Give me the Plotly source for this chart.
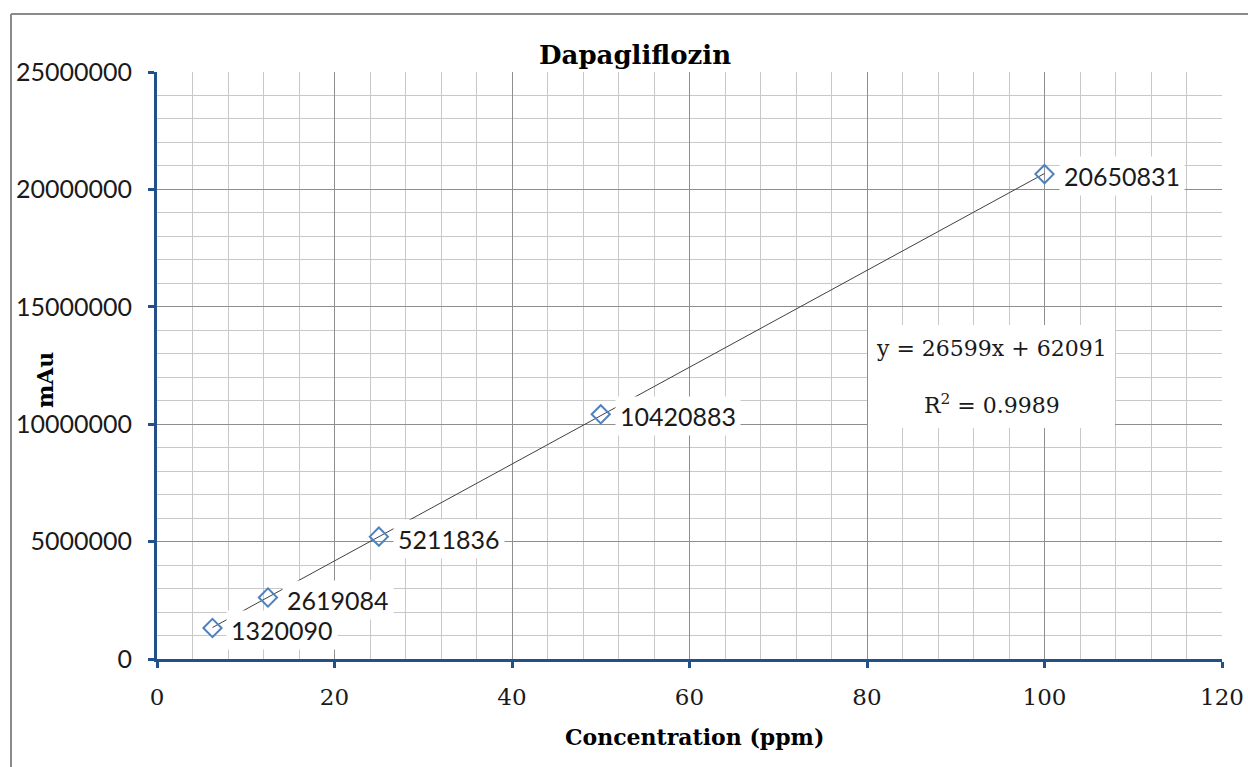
import numpy as np
import plotly.graph_objects as go

# Data
concentration = [6.25, 12.5, 25, 50, 100]
response = [1320090, 2619084, 5211836, 10420883, 20650831]
label_texts = ["1320090", "2619084", "5211836", "10420883", "20650831"]
equation_text = "y = 26599x + 62091"
r2_text = "R<sup>2</sup> = 0.9989"
title_text = "Dapagliflozin"
x_title = "Concentration (ppm)"
y_title = "mAu"

# Linear trendline through the data (least squares)
slope, intercept = np.polyfit(concentration, response, 1)
trend_x = [min(concentration), max(concentration)]
trend_y = [slope * v + intercept for v in trend_x]

W, H = 1248, 767
L, R, T, B = 157, 26, 72, 108
pw, ph = W - L - R, H - T - B

def px(x):
    return (x - L) / pw

def py(y):
    return (H - B - y) / ph

fig = go.Figure()
fig.add_trace(go.Scatter(x=trend_x, y=trend_y, mode="lines",
                         line=dict(color="#404040", width=1), hoverinfo="skip",
                         showlegend=False))
fig.add_trace(go.Scatter(x=concentration, y=response, mode="markers",
                         marker=dict(symbol="diamond-open", size=14, color="#4F81BD",
                                     line=dict(width=2, color="#4F81BD")),
                         showlegend=False))

annotations = []
for xv, yv, t in zip(concentration, response, label_texts):
    annotations.append(dict(x=xv, y=yv, xref="x", yref="y", text=t, showarrow=False,
                            xanchor="left", yanchor="middle", xshift=14, yshift=-2,
                            bgcolor="white", borderpad=4,
                            font=dict(family="Lato", size=25, color="#1a1a1a")))

annotations.append(dict(x=px(991.5), y=py(348), xref="paper", yref="paper",
                        text=equation_text, showarrow=False,
                        xanchor="center", yanchor="middle",
                        font=dict(family="DejaVu Serif", size=22, color="#1a1a1a")))
annotations.append(dict(x=px(991.5), y=py(404), xref="paper", yref="paper",
                        text=r2_text, showarrow=False,
                        xanchor="center", yanchor="middle",
                        font=dict(family="DejaVu Serif", size=22, color="#1a1a1a")))
annotations.append(dict(x=px(635), y=py(55), xref="paper", yref="paper",
                        text="<b>" + title_text + "</b>", showarrow=False,
                        xanchor="center", yanchor="middle",
                        font=dict(family="DejaVu Serif", size=26, color="#000000")))
annotations.append(dict(x=px(694), y=py(737), xref="paper", yref="paper",
                        text="<b>" + x_title + "</b>", showarrow=False,
                        xanchor="center", yanchor="middle",
                        font=dict(family="DejaVu Serif", size=22, color="#000000")))
annotations.append(dict(x=px(45), y=py(380), xref="paper", yref="paper",
                        text="<b>" + y_title + "</b>", showarrow=False, textangle=-90,
                        xanchor="center", yanchor="middle",
                        font=dict(family="DejaVu Serif", size=22, color="#000000")))

shapes = [
    # white box behind the trendline equation
    dict(type="rect", xref="paper", yref="paper", x0=px(868), x1=px(1115),
         y0=py(428), y1=py(325), fillcolor="white", line=dict(width=0), layer="above"),
    dict(type="line", xref="paper", yref="paper", x0=px(11), x1=px(11),
         y0=py(14), y1=py(780), line=dict(color="#8a8a8a", width=2)),
    dict(type="line", xref="paper", yref="paper", x0=px(11), x1=px(1260),
         y0=py(14), y1=py(14), line=dict(color="#8a8a8a", width=2)),
]

axis_color = "#22508a"
fig.update_layout(
    width=W, height=H, autosize=False,
    margin=dict(l=L, r=R, t=T, b=B, pad=0, autoexpand=False),
    paper_bgcolor="white", plot_bgcolor="white",
    annotations=annotations, shapes=shapes,
    xaxis=dict(range=[0, 120], dtick=20, tick0=0, showgrid=True,
               gridcolor="#8e8e8e", gridwidth=1,
               minor=dict(dtick=4, showgrid=True, gridcolor="#c8c8c8", gridwidth=1),
               showline=True, linecolor=axis_color, linewidth=3,
               ticks="outside", ticklen=6, tickwidth=3, tickcolor=axis_color,
               zeroline=False, ticklabelstandoff=9, automargin=False,
               ticklabeloverflow="allow",
               tickfont=dict(family="DejaVu Serif", size=23, color="#1a1a1a")),
    yaxis=dict(range=[0, 25000000], dtick=5000000, tick0=0, showgrid=True,
               gridcolor="#8e8e8e", gridwidth=1,
               minor=dict(dtick=1000000, showgrid=True, gridcolor="#c8c8c8", gridwidth=1),
               showline=True, linecolor=axis_color, linewidth=3,
               ticks="outside", ticklen=6, tickwidth=3, tickcolor=axis_color,
               zeroline=False, tickformat="d", ticklabelstandoff=11, automargin=False,
               ticklabeloverflow="allow",
               tickfont=dict(family="Lato", size=25, color="#1a1a1a")),
)

fig.write_html(
    "out.html",
    config={"displayModeBar": False, "responsive": False},
    post_script=(
        "document.body.style.margin='0px';document.body.style.overflow='hidden';"
        "var gd=document.getElementById('{plot_id}');"
        "Plotly.relayout(gd,{width:%d,height:%d});" % (W, H)
    ),
)
